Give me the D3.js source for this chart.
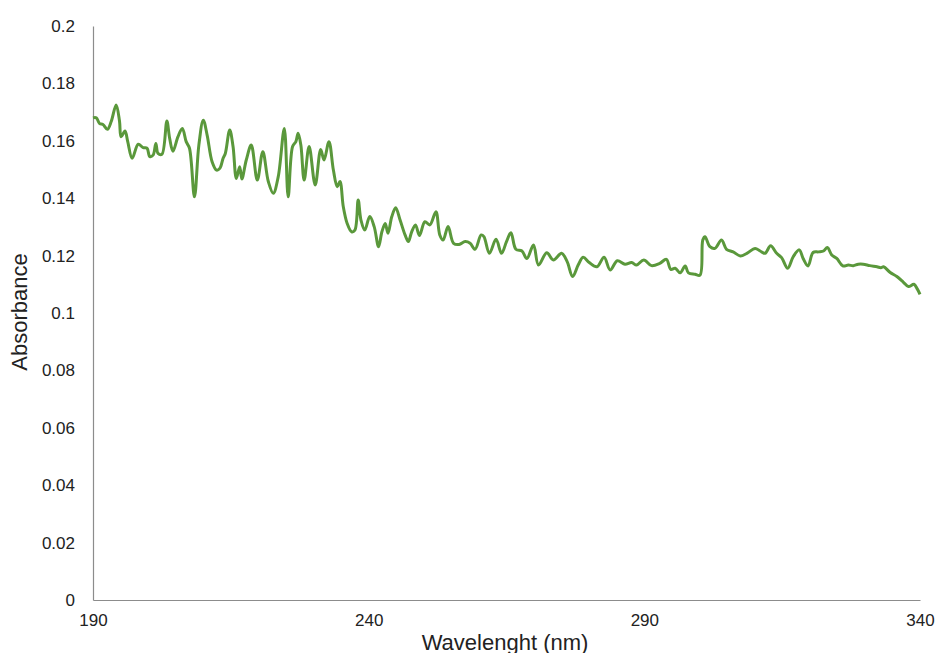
<!DOCTYPE html>
<html>
<head>
<meta charset="utf-8">
<script src="https://cdn.jsdelivr.net/npm/d3@7"></script>
<style>
  body { margin: 0; background: #fff; }
  text { font-family: "Liberation Sans", Arial, Helvetica, sans-serif; fill: #222; }
</style>
</head>
<body>
<svg width="939" height="653"></svg>
<script>
// wavelength (nm)
var wavelength = [
  190.0, 190.6, 191.2, 191.8, 192.6, 193.3, 194.2, 194.8, 195.1, 195.8,
  196.3, 197.1, 198.2, 199.1, 199.8, 200.3, 200.9, 201.4, 201.8, 202.5,
  203.4, 203.9, 204.5, 205.4, 206.2, 206.9, 207.5, 208.4, 209.2, 210.0,
  210.7, 211.6, 212.4, 213.0, 213.6, 214.0, 214.8, 215.4, 216.0, 216.6,
  217.0, 217.8, 218.7, 219.8, 220.8, 221.8, 222.7, 223.6, 224.7, 225.4,
  226.2, 226.8, 227.2, 227.7, 228.3, 229.2, 230.3, 231.3, 231.9, 232.8,
  233.6, 234.3, 234.8, 235.4, 236.1, 236.9, 237.5, 238.1, 238.6, 239.3,
  240.2, 241.0, 241.8, 242.4, 243.0, 243.5, 244.2, 244.9, 245.7, 246.6,
  247.2, 247.8, 248.5, 249.2, 250.2, 251.1, 252.2, 252.9, 253.5, 254.4,
  255.4, 256.4, 257.5, 258.4, 259.3, 260.4, 260.9, 261.9, 263.1, 264.1,
  265.0, 265.8, 266.7, 267.8, 268.7, 269.9, 270.8, 272.3, 273.5, 275.0,
  276.0, 277.0, 278.0, 278.9, 280.0, 281.4, 282.7, 283.8, 285.1, 286.5,
  287.7, 288.6, 289.9, 291.3, 292.8, 294.0, 294.8, 295.6, 296.5, 297.4,
  298.0, 299.2, 300.1, 300.6, 301.0, 301.9, 302.8, 304.0, 304.9, 306.1,
  307.4, 308.6, 310.1, 311.0, 311.9, 312.9, 314.0, 314.9, 316.0, 317.0,
  318.1, 318.8, 319.7, 320.6, 321.6, 322.5, 323.2, 324.0, 324.9, 326.0,
  327.0, 327.9, 328.8, 329.7, 330.9, 332.2, 332.9, 333.4, 334.6, 335.8,
  337.0, 337.9, 338.9, 339.5, 340.0
];

var absorbance = [
  0.1680, 0.1680, 0.1660, 0.1657, 0.1640, 0.1667, 0.1725, 0.1670, 0.1614, 0.1634,
  0.1597, 0.1539, 0.1588, 0.1576, 0.1574, 0.1545, 0.1550, 0.1591, 0.1556, 0.1553,
  0.1669, 0.1609, 0.1564, 0.1614, 0.1643, 0.1597, 0.1574, 0.1405, 0.1585, 0.1672,
  0.1620, 0.1527, 0.1498, 0.1504, 0.1539, 0.1556, 0.1638, 0.1580, 0.1469, 0.1510,
  0.1467, 0.1533, 0.1585, 0.1463, 0.1562, 0.1458, 0.1417, 0.1475, 0.1643, 0.1405,
  0.1580, 0.1597, 0.1626, 0.1585, 0.1463, 0.1580, 0.1446, 0.1570, 0.1533, 0.1597,
  0.1498, 0.1440, 0.1458, 0.1370, 0.1312, 0.1283, 0.1289, 0.1394, 0.1324, 0.1289,
  0.1336, 0.1301, 0.1231, 0.1283, 0.1312, 0.1278, 0.1336, 0.1367, 0.1324, 0.1272,
  0.1249, 0.1283, 0.1307, 0.1270, 0.1318, 0.1307, 0.1353, 0.1272, 0.1254, 0.1301,
  0.1243, 0.1239, 0.1249, 0.1243, 0.1222, 0.1272, 0.1266, 0.1208, 0.1257, 0.1208,
  0.1249, 0.1280, 0.1222, 0.1216, 0.1190, 0.1237, 0.1167, 0.1210, 0.1185, 0.1208,
  0.1179, 0.1127, 0.1167, 0.1194, 0.1176, 0.1161, 0.1194, 0.1150, 0.1182, 0.1170,
  0.1176, 0.1167, 0.1185, 0.1165, 0.1173, 0.1187, 0.1152, 0.1156, 0.1140, 0.1164,
  0.1140, 0.1135, 0.1132, 0.1254, 0.1266, 0.1231, 0.1225, 0.1254, 0.1222, 0.1213,
  0.1199, 0.1208, 0.1225, 0.1216, 0.1208, 0.1234, 0.1208, 0.1193, 0.1156, 0.1196,
  0.1220, 0.1190, 0.1164, 0.1211, 0.1213, 0.1216, 0.1228, 0.1202, 0.1190, 0.1164,
  0.1167, 0.1165, 0.1170, 0.1170, 0.1165, 0.1161, 0.1158, 0.1161, 0.1141, 0.1127,
  0.1107, 0.1092, 0.1100, 0.1084, 0.1065
];

var xTicks = [190, 240, 290, 340];
var yTicks = [0, 0.02, 0.04, 0.06, 0.08, 0.1, 0.12, 0.14, 0.16, 0.18, 0.2];

var svg = d3.select("svg");

var x = d3.scaleLinear().domain([190, 340]).range([93, 920]);
var y = d3.scaleLinear().domain([0, 0.2]).range([600, 26]);

// y axis
var yAxis = svg.append("g")
  .attr("transform", "translate(93,0)")
  .call(d3.axisLeft(y).tickValues(yTicks).tickSize(0).tickPadding(18)
    .tickFormat(function(d) { return d3.format("~g")(d); }));
yAxis.select(".domain").attr("stroke", "#8c8c8c").attr("stroke-width", 1.2);
yAxis.selectAll("text").style("font-size", "17px").attr("fill", "#222");

// x axis
var xAxis = svg.append("g")
  .attr("transform", "translate(0,600)")
  .call(d3.axisBottom(x).tickValues(xTicks).tickSize(0).tickPadding(14));
xAxis.select(".domain").attr("stroke", "#8c8c8c").attr("stroke-width", 1.2);
xAxis.selectAll("text").style("font-size", "17px").attr("fill", "#222");

var data = wavelength.map(function(w, i) {
  return { w: w, a: absorbance[i] };
});

var line = d3.line()
  .x(function(d) { return x(d.w); })
  .y(function(d) { return y(d.a); })
  .curve(d3.curveCatmullRom.alpha(0.5));

svg.append("path")
  .datum(data)
  .attr("fill", "none")
  .attr("stroke", "#5a983b")
  .attr("stroke-width", 3)
  .attr("stroke-linejoin", "round")
  .attr("d", line);

// titles
svg.append("text")
  .attr("x", 505)
  .attr("y", 650)
  .attr("text-anchor", "middle")
  .style("font-size", "22px")
  .text("Wavelenght (nm)");

svg.append("text")
  .attr("transform", "translate(27,312) rotate(-90)")
  .attr("text-anchor", "middle")
  .style("font-size", "22px")
  .text("Absorbance");
</script>
</body>
</html>
